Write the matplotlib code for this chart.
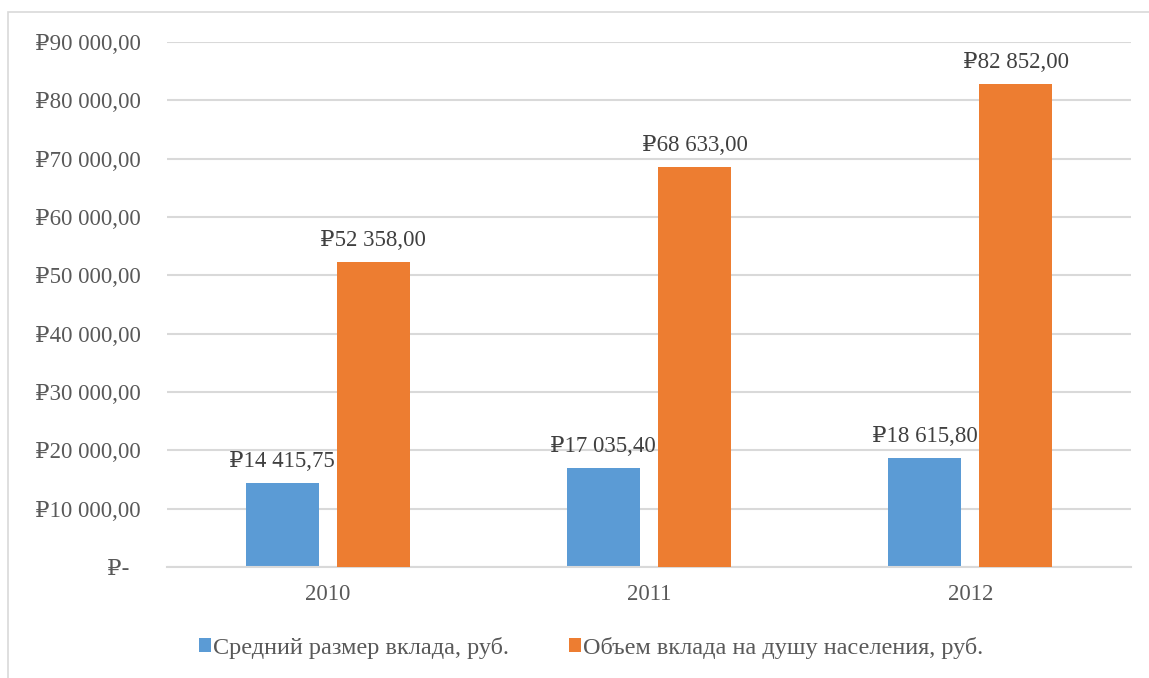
import matplotlib.pyplot as plt
import matplotlib.ticker as mticker
from matplotlib.patches import Rectangle
import numpy as np

years = ['2010', '2011', '2012']
avg_deposit = [14415.75, 17035.40, 18615.80]
per_capita = [52358.00, 68633.00, 82852.00]
series_names = ['Средний размер вклада, руб.', 'Объем вклада на душу населения, руб.']

plt.rcParams['font.family'] = ['Liberation Serif', 'DejaVu Serif']

BLUE = '#5B9BD5'
ORANGE = '#ED7D31'
GRID = '#D9D9D9'
TICK = '#595959'
LABEL = '#404040'


def rub(v):
    if v == 0:
        return '\u20bd-  '
    s = f'{v:,.2f}'.replace(',', ' ').replace('.', ',')
    return '\u20bd' + s


W, H = 1149, 678
fig = plt.figure(figsize=(W / 100, H / 100), dpi=100)
fig.patches.append(Rectangle((8 / W, -0.1), 1.2, 1.1 - 12 / H, transform=fig.transFigure,
                             fill=False, edgecolor=GRID, linewidth=1.2))
ax = fig.add_axes([167 / W, (H - 567) / H, (1131 - 167) / W, (567 - 42) / H])

x = np.arange(len(years))
width = 0.227
off = 0.142
b1 = ax.bar(x - off, avg_deposit, width, color=BLUE, zorder=2, label=series_names[0])
b2 = ax.bar(x + off, per_capita, width, color=ORANGE, zorder=4, label=series_names[1])

for xi, v in zip(x - off, avg_deposit):
    ax.annotate(rub(v), (xi, v), xytext=(0, 11.5), textcoords='offset points',
                ha='center', va='baseline', fontsize=16.5, color=LABEL, zorder=3)
for xi, v in zip(x + off, per_capita):
    ax.annotate(rub(v), (xi, v), xytext=(0, 11.5), textcoords='offset points',
                ha='center', va='baseline', fontsize=16.5, color=LABEL, zorder=5)

ax.set_xlim(-0.5, 2.5)
ax.set_ylim(0, 90000)
ax.set_xticks(x)
ax.set_xticklabels(years)
ax.yaxis.set_major_locator(mticker.MultipleLocator(10000))
ax.yaxis.set_major_formatter(mticker.FuncFormatter(lambda v, p: rub(v)))
ax.tick_params(axis='y', length=0, pad=19, labelsize=16.5, labelcolor=TICK)
ax.tick_params(axis='x', length=0, pad=12, labelsize=16.5, labelcolor=TICK)
ax.grid(axis='y', color=GRID, linewidth=1.5, zorder=0)
ax.set_axisbelow(True)
for sp in ['top', 'right', 'left']:
    ax.spines[sp].set_visible(False)
ax.spines['bottom'].set_color(GRID)
ax.spines['bottom'].set_linewidth(1.5)

leg = fig.legend(handles=[b1, b2], loc='center', bbox_to_anchor=(591 / W, (H - 648) / H),
                 ncol=2, frameon=False, fontsize=17.5, handlelength=0.5, handleheight=0.5,
                 handletextpad=0.1, columnspacing=2.45, labelcolor=TICK)

fig.savefig('out.png', dpi=100)
